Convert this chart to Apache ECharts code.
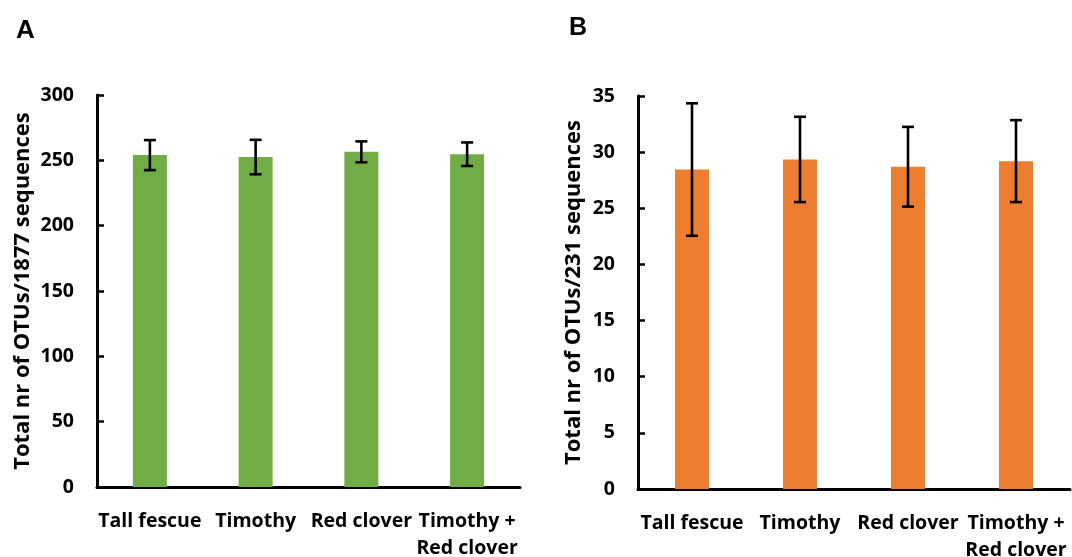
<!DOCTYPE html>
<html>
<head>
<meta charset="utf-8">
<script src="https://cdn.jsdelivr.net/npm/echarts@6/dist/echarts.min.js"></script>
<style>
html,body{margin:0;padding:0;background:#fff;}
#c{width:1072px;height:557px;}
</style>
</head>
<body>
<div id="c"></div>
<script>
// ---- data ----
var categories = ['Tall fescue', 'Timothy', 'Red clover', 'Timothy +\nRed clover'];
var otuA = [254, 252.5, 256.5, 254.7];
var errA = [11.5, 13.2, 8, 9];
var otuB = [28.45, 29.35, 28.7, 29.2];
var errB = [5.9, 3.8, 3.55, 3.65];
var yMaxA = 300, yStepA = 50;
var yMaxB = 35, yStepB = 5;
var yTitleA = 'Total nr of OTUs/1877 sequences';
var yTitleB = 'Total nr of OTUs/231 sequences';
var panelA = 'A', panelB = 'B';

var FONT = 'Open Sans';
function errData(vals, errs) {
  return vals.map(function (v, i) { return [i, v - errs[i], v + errs[i]]; });
}
function errRender(params, api) {
  var lo = api.coord([api.value(0), api.value(1)]);
  var hi = api.coord([api.value(0), api.value(2)]);
  var w = 6;
  var st = { stroke: '#000', lineWidth: 2.6 };
  return {
    type: 'group',
    children: [
      { type: 'line', shape: { x1: hi[0], y1: hi[1], x2: lo[0], y2: lo[1] }, style: st },
      { type: 'line', shape: { x1: hi[0] - w, y1: hi[1], x2: hi[0] + w, y2: hi[1] }, style: st },
      { type: 'line', shape: { x1: lo[0] - w, y1: lo[1], x2: lo[0] + w, y2: lo[1] }, style: st }
    ]
  };
}
function xAx(idx) {
  return {
    type: 'category', gridIndex: idx, data: categories,
    axisLine: { lineStyle: { color: '#000', width: 3 } },
    axisTick: { show: false },
    axisLabel: { interval: 0, color: '#000', fontFamily: FONT, fontWeight: 'bold', fontSize: 19.5, margin: 21, lineHeight: 27 }
  };
}
function yAx(idx, max, step, name, gap) {
  return {
    type: 'value', gridIndex: idx, min: 0, max: max, interval: step,
    name: name, nameLocation: 'middle', nameGap: gap,
    nameTextStyle: { color: '#000', fontFamily: FONT, fontWeight: 'bold', fontSize: 22 },
    axisLine: { show: true, lineStyle: { color: '#000', width: 3 } },
    axisTick: { show: true, inside: true, length: 7, lineStyle: { color: '#000', width: 2.5 } },
    splitLine: { show: false },
    axisLabel: { color: '#000', fontFamily: FONT, fontWeight: 'bold', fontSize: 19.5, margin: 23 }
  };
}
var chart = echarts.init(document.getElementById('c'));
chart.setOption({
  backgroundColor: '#fff',
  animation: false,
  title: [
    { text: panelA, left: 11, top: 13, textStyle: { fontFamily: 'Liberation Sans', fontWeight: 'bold', fontSize: 26, color: '#000' } },
    { text: panelB, left: 564, top: 11, textStyle: { fontFamily: 'Liberation Sans', fontWeight: 'bold', fontSize: 25, color: '#000' } }
  ],
  grid: [
    { left: 97, top: 95, width: 423, height: 392, containLabel: false, outerBoundsMode: 'none' },
    { left: 638, top: 96, width: 432, height: 393, containLabel: false, outerBoundsMode: 'none' }
  ],
  xAxis: [xAx(0), xAx(1)],
  yAxis: [yAx(0, yMaxA, yStepA, yTitleA, 63), yAx(1, yMaxB, yStepB, yTitleB, 53)],
  series: [
    { type: 'bar', xAxisIndex: 0, yAxisIndex: 0, data: otuA, barWidth: 34, itemStyle: { color: '#70AD47' } },
    { type: 'custom', xAxisIndex: 0, yAxisIndex: 0, data: errData(otuA, errA), renderItem: errRender, encode: { x: 0, y: [1, 2] }, z: 5 },
    { type: 'bar', xAxisIndex: 1, yAxisIndex: 1, data: otuB, barWidth: 34, itemStyle: { color: '#ED7D31' } },
    { type: 'custom', xAxisIndex: 1, yAxisIndex: 1, data: errData(otuB, errB), renderItem: errRender, encode: { x: 0, y: [1, 2] }, z: 5 }
  ]
});
</script>
</body>
</html>
